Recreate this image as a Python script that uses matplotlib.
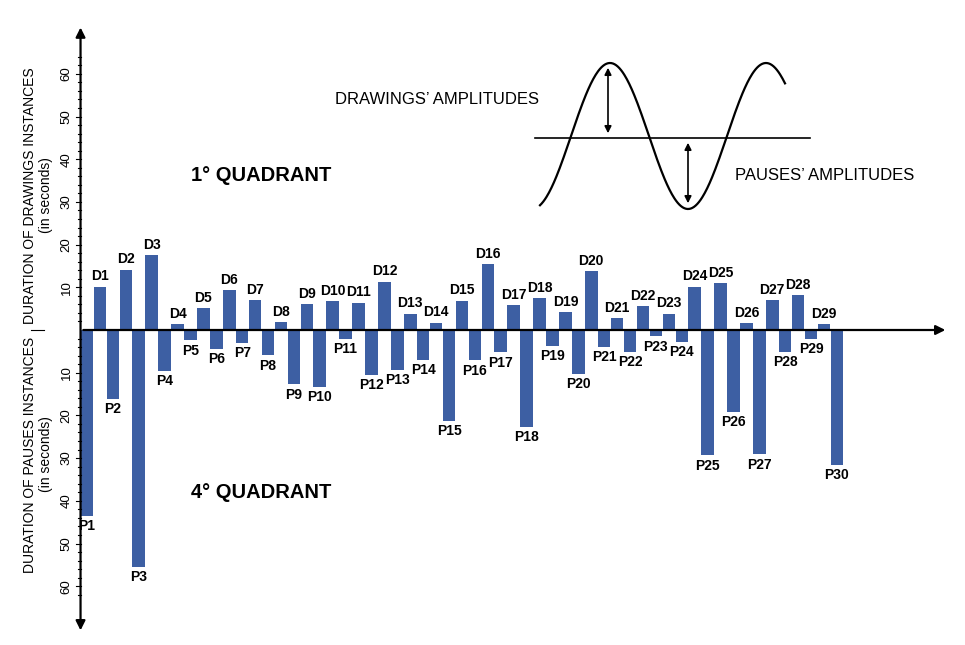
import matplotlib
matplotlib.use('Agg')
import matplotlib.pyplot as plt
import numpy as np

# drawing durations D1..D29 and pause durations P1..P30 (seconds)
drawings = [10.1, 14.1, 17.5, 1.3, 5.1, 9.3, 7.0, 1.8, 6.0, 6.8, 6.4, 11.3, 3.8, 1.7,
            6.9, 15.4, 5.8, 7.5, 4.1, 13.8, 2.7, 5.6, 3.8, 10.1, 10.9, 1.6, 7.0, 8.1, 1.4]
pauses = [43.5, 16.1, 55.5, 9.6, 2.4, 4.4, 3.0, 5.9, 12.7, 13.3, 2.0, 10.5, 9.3, 7.0,
          21.3, 7.1, 5.2, 22.7, 3.75, 10.2, 4.0, 5.1, 1.5, 2.7, 29.3, 19.1, 29.1, 5.1, 2.0, 31.6]
d_labels = ['D%d' % (i + 1) for i in range(len(drawings))]
p_labels = ['P%d' % (i + 1) for i in range(len(pauses))]

plt.rcParams['font.family'] = ['Liberation Sans', 'DejaVu Sans']
blue = '#3d5fa3'

fig = plt.figure(figsize=(9.65, 6.45), dpi=100)
ax = fig.add_axes([0, 0, 1, 1])
step = 12.93
ax.set_xlim(-87 / step, (965 - 87) / step)
ax.set_ylim((330 - 645) / 4.27, 330 / 4.27)
ax.axis('off')

px = np.arange(len(pauses)) * 2
dx = np.arange(len(drawings)) * 2 + 1
ax.bar(px, [-v for v in pauses], width=0.97, color=blue, zorder=2)
ax.bar(dx, drawings, width=0.97, color=blue, zorder=2)
for x, v, t in zip(dx, drawings, d_labels):
    ax.text(x, v + 0.8, t, ha='center', va='bottom', fontsize=10, fontweight='bold')
for x, v, t in zip(px, pauses, p_labels):
    ax.text(x, -v - 0.8, t, ha='center', va='top', fontsize=10, fontweight='bold')

# axes with arrows
x0 = -0.5
ax.annotate('', xy=(x0, 71.5), xytext=(x0, -71), zorder=3,
            arrowprops=dict(arrowstyle='<|-|>', color='black', lw=1.6, mutation_scale=14))
ax.annotate('', xy=(66.6, 0), xytext=(x0, 0), zorder=3,
            arrowprops=dict(arrowstyle='-|>', color='black', lw=1.6, mutation_scale=14))
tl = 5 / step
for v in range(2, 65, 2):
    ln = tl if v % 10 == 0 else tl * 0.6
    ax.plot([x0 - ln, x0], [v, v], color='black', lw=0.8)
    if v <= 62:
        ax.plot([x0 - ln, x0], [-v, -v], color='black', lw=0.8)
for v in range(10, 61, 10):
    ax.text(x0 - 14 / step, v, str(v), rotation=90, ha='center', va='center', fontsize=9.5)
    ax.text(x0 - 14 / step, -v, str(v), rotation=90, ha='center', va='center', fontsize=9.5)

lx = -49 / step
ax.text(lx, 1.5, 'DURATION OF DRAWINGS INSTANCES\n(in seconds)', rotation=90,
        ha='center', va='bottom', fontsize=10, linespacing=1.1)
ax.text(lx, -1.5, 'DURATION OF PAUSES INSTANCES\n(in seconds)', rotation=90,
        ha='center', va='top', fontsize=10, linespacing=1.1)
ax.plot([-56 / step, -43 / step], [0, 0], color='black', lw=0.8)

ax.text((261 - 87) / step, (330 - 175) / 4.27, '1° QUADRANT', ha='center', va='center',
        fontsize=14.5, fontweight='bold')
ax.text((261 - 87) / step, (330 - 493) / 4.27, '4° QUADRANT', ha='center', va='center',
        fontsize=14.5, fontweight='bold')

# schematic inset in pixel coordinates
ov = fig.add_axes([0, 0, 1, 1])
ov.set_xlim(0, 965)
ov.set_ylim(645, 0)
ov.axis('off')
xs = np.linspace(540, 785, 300)
ys = 136 - 73 * np.sin(2 * np.pi * (xs - 571) / 156)
ov.plot(xs, ys, color='black', lw=1.6)
ov.plot([535, 810], [138, 138], color='black', lw=1.2)
ov.annotate('', xy=(608, 65), xytext=(608, 136),
            arrowprops=dict(arrowstyle='<|-|>', color='black', lw=1.2, mutation_scale=10))
ov.annotate('', xy=(688, 206), xytext=(688, 140),
            arrowprops=dict(arrowstyle='<|-|>', color='black', lw=1.2, mutation_scale=10))
ov.text(437, 99, "DRAWINGS’ AMPLITUDES", ha='center', va='center', fontsize=12)
ov.text(825, 175, "PAUSES’ AMPLITUDES", ha='center', va='center', fontsize=12)

fig.savefig('out.png', dpi=100)
